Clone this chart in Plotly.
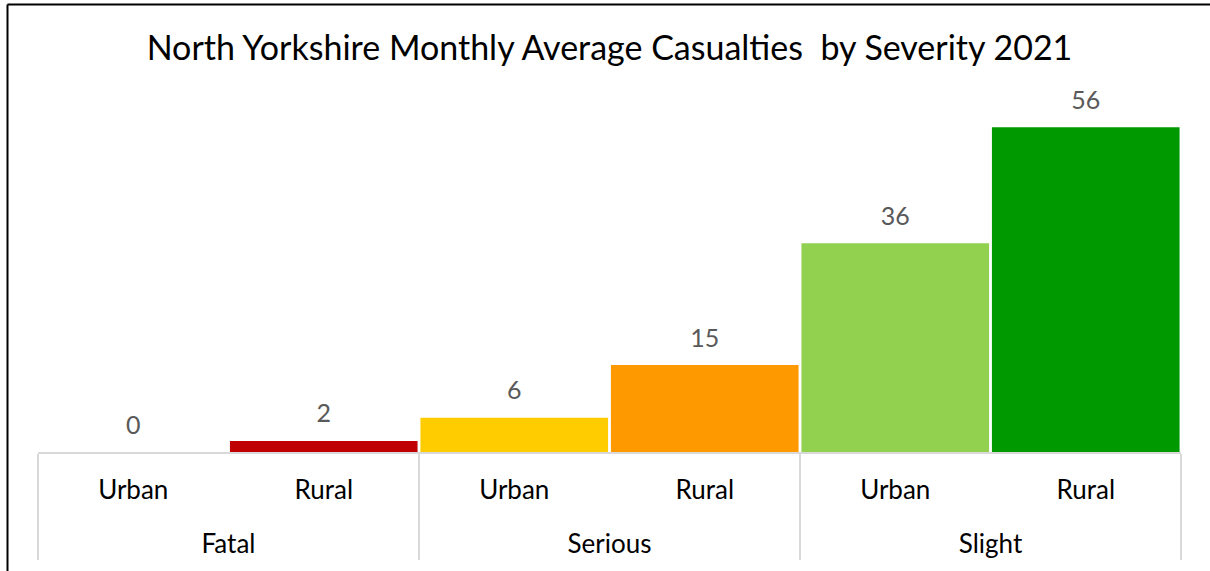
import plotly.graph_objects as go

severity = ["Fatal", "Fatal", "Serious", "Serious", "Slight", "Slight"]
location = ["Urban", "Rural", "Urban", "Rural", "Urban", "Rural"]
values = [0, 1.9, 5.9, 15, 36, 56]
colors = ["#C00000", "#C00000", "#FFCC00", "#FF9900", "#92D050", "#009900"]
title = "North Yorkshire Monthly Average Casualties  by Severity 2021"

W, H = 1210, 571
ML, MR, MT, MB = 38, 29, 104, 119
FONT = "Lato"

outer_labels = ["<br>" + s for s in severity]

fig = go.Figure()
fig.add_trace(go.Bar(
    x=[outer_labels, location], y=values,
    marker=dict(color=colors, line=dict(width=0)),
    hoverinfo="skip",
))
fig.add_trace(go.Scatter(
    x=[outer_labels, location], y=values,
    mode="markers+text",
    text=[f"{v:.0f}" for v in values],
    textposition="top center",
    textfont=dict(family=FONT, size=25, color="#595959"),
    marker=dict(size=18, opacity=0),
    cliponaxis=False,
    hoverinfo="skip",
))

pw = W - ML - MR
ph = H - MT - MB
def px2x(px):
    return (px - ML) / pw
def py2y(py):
    return (H - MB - py) / ph

fig.update_layout(
    width=W, height=H,
    margin=dict(l=ML, r=MR, t=MT, b=MB),
    paper_bgcolor="white", plot_bgcolor="white",
    showlegend=False,
    bargap=0.015,
    title=dict(text=title, x=0.5, xref="paper", xanchor="center",
               y=1 - 48 / H, yanchor="middle",
               font=dict(family=FONT, size=34, color="#000000")),
    xaxis=dict(type="multicategory", range=[-0.5, 5.5],
               showline=True, linecolor="#D9D9D9", linewidth=2,
               showdividers=True, dividercolor="#D9D9D9", dividerwidth=2,
               ticks="", showgrid=False, ticklabelstandoff=14,
               tickfont=dict(family=FONT, size=26, color="#000000")),
    yaxis=dict(range=[0, 60], visible=False, showgrid=False, zeroline=False),
    shapes=[
        dict(type="line", xref="paper", yref="paper",
             x0=px2x(7.5), x1=px2x(1215), y0=py2y(4.5), y1=py2y(4.5),
             line=dict(color="#000000", width=2)),
        dict(type="line", xref="paper", yref="paper",
             x0=px2x(7.5), x1=px2x(7.5), y0=py2y(4.5), y1=py2y(575),
             line=dict(color="#000000", width=2)),
    ],
)

fig.write_html("out.html", config={"displayModeBar": False},
               post_script="document.body.style.margin='0';")
